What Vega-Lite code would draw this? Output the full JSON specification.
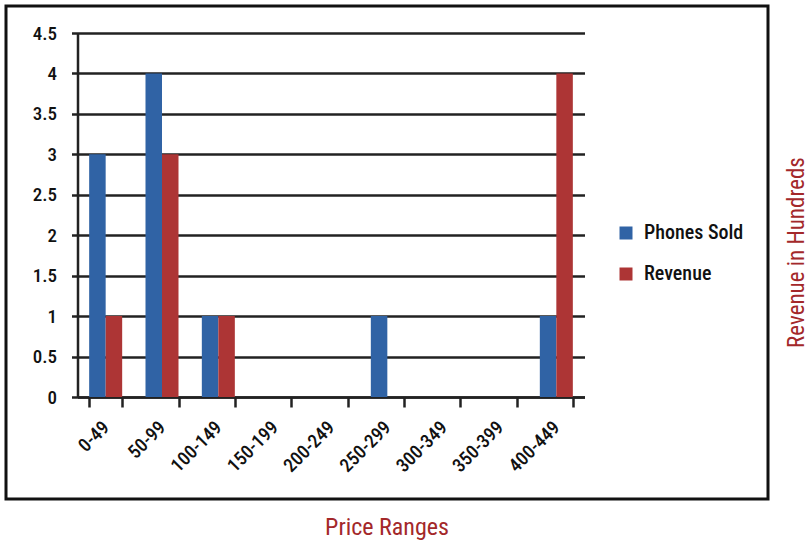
{
  "$schema": "https://vega.github.io/schema/vega-lite/v6.json",
  "width": 762,
  "height": 493,
  "autosize": {"type": "none"},
  "padding": {"left": 6, "top": 6, "right": 40, "bottom": 44},
  "background": "white",
  "config": {
    "view": {"stroke": "#111111", "strokeWidth": 3},
    "font": "Roboto Condensed, DejaVu Sans Condensed, Liberation Sans, sans-serif"
  },
  "title": {
    "text": "Price Ranges",
    "orient": "bottom",
    "color": "#a3282a",
    "fontSize": 24,
    "fontWeight": "normal",
    "offset": 17
  },
  "data": {
    "values": [
      {"range": "0-49", "series": "Phones Sold", "value": 3},
      {"range": "0-49", "series": "Revenue", "value": 1},
      {"range": "50-99", "series": "Phones Sold", "value": 4},
      {"range": "50-99", "series": "Revenue", "value": 3},
      {"range": "100-149", "series": "Phones Sold", "value": 1},
      {"range": "100-149", "series": "Revenue", "value": 1},
      {"range": "150-199", "series": "Phones Sold", "value": 0},
      {"range": "150-199", "series": "Revenue", "value": 0},
      {"range": "200-249", "series": "Phones Sold", "value": 0},
      {"range": "200-249", "series": "Revenue", "value": 0},
      {"range": "250-299", "series": "Phones Sold", "value": 1},
      {"range": "250-299", "series": "Revenue", "value": 0},
      {"range": "300-349", "series": "Phones Sold", "value": 0},
      {"range": "300-349", "series": "Revenue", "value": 0},
      {"range": "350-399", "series": "Phones Sold", "value": 0},
      {"range": "350-399", "series": "Revenue", "value": 0},
      {"range": "400-449", "series": "Phones Sold", "value": 1},
      {"range": "400-449", "series": "Revenue", "value": 4}
    ]
  },
  "layer": [
    {
      "mark": {"type": "bar"},
      "encoding": {
        "x": {
          "field": "range",
          "type": "nominal",
          "sort": null,
          "scale": {"range": [71.5, 578.5], "paddingInner": 0.414, "paddingOuter": 0.207},
          "axis": {
            "orient": "bottom",
            "offset": -102,
            "title": null,
            "grid": false,
            "domain": true,
            "domainColor": "#222222",
            "domainWidth": 2.5,
            "ticks": true,
            "tickBand": "extent",
            "tickSize": 10,
            "tickColor": "#222222",
            "tickWidth": 2.5,
            "labelAngle": -45,
            "labelAlign": "right",
            "labelBaseline": "middle",
            "labelFontSize": 19,
            "labelFontWeight": 500,
            "labelColor": "#111111",
            "labelPadding": 17
          }
        },
        "xOffset": {"field": "series", "type": "nominal", "sort": ["Phones Sold", "Revenue"]},
        "y": {
          "field": "value",
          "type": "quantitative",
          "scale": {"domain": [0, 4.5], "range": [391, 27], "nice": false, "zero": true},
          "axis": {
            "orient": "left",
            "offset": -71.5,
            "title": null,
            "values": [0, 0.5, 1, 1.5, 2, 2.5, 3, 3.5, 4, 4.5],
            "format": "~g",
            "grid": true,
            "gridColor": "#222222",
            "gridWidth": 2.5,
            "domain": true,
            "domainColor": "#222222",
            "domainWidth": 2.5,
            "ticks": true,
            "tickSize": 6,
            "tickColor": "#222222",
            "tickWidth": 2.5,
            "labelFontSize": 19,
            "labelFontWeight": 500,
            "labelColor": "#111111",
            "labelPadding": 15
          }
        },
        "color": {
          "field": "series",
          "type": "nominal",
          "scale": {"domain": ["Phones Sold", "Revenue"], "range": ["#3063a5", "#ad3535"]},
          "legend": {
            "orient": "none",
            "legendX": 610,
            "legendY": 217,
            "title": null,
            "symbolType": "square",
            "symbolSize": 169,
            "symbolStrokeWidth": 0,
            "labelFontSize": 20,
            "labelFontWeight": 500,
            "labelColor": "#111111",
            "labelOffset": 8,
            "rowPadding": 21,
            "padding": 0
          }
        }
      }
    },
    {
      "mark": {"type": "rule", "opacity": 0},
      "encoding": {
        "y": {
          "field": "value",
          "type": "quantitative",
          "scale": {"domain": [0, 4.5], "range": [391, 27], "nice": false},
          "axis": {
            "orient": "right",
            "title": "Revenue in Hundreds",
            "titleColor": "#a3282a",
            "titleFontSize": 23,
            "titleFontWeight": "normal",
            "titleAngle": 270,
            "titleAlign": "center",
            "titleBaseline": "middle",
            "titleX": 28,
            "titleY": 246,
            "labels": false,
            "ticks": false,
            "domain": false,
            "grid": false
          }
        }
      }
    }
  ],
  "resolve": {"axis": {"y": "independent"}}
}
